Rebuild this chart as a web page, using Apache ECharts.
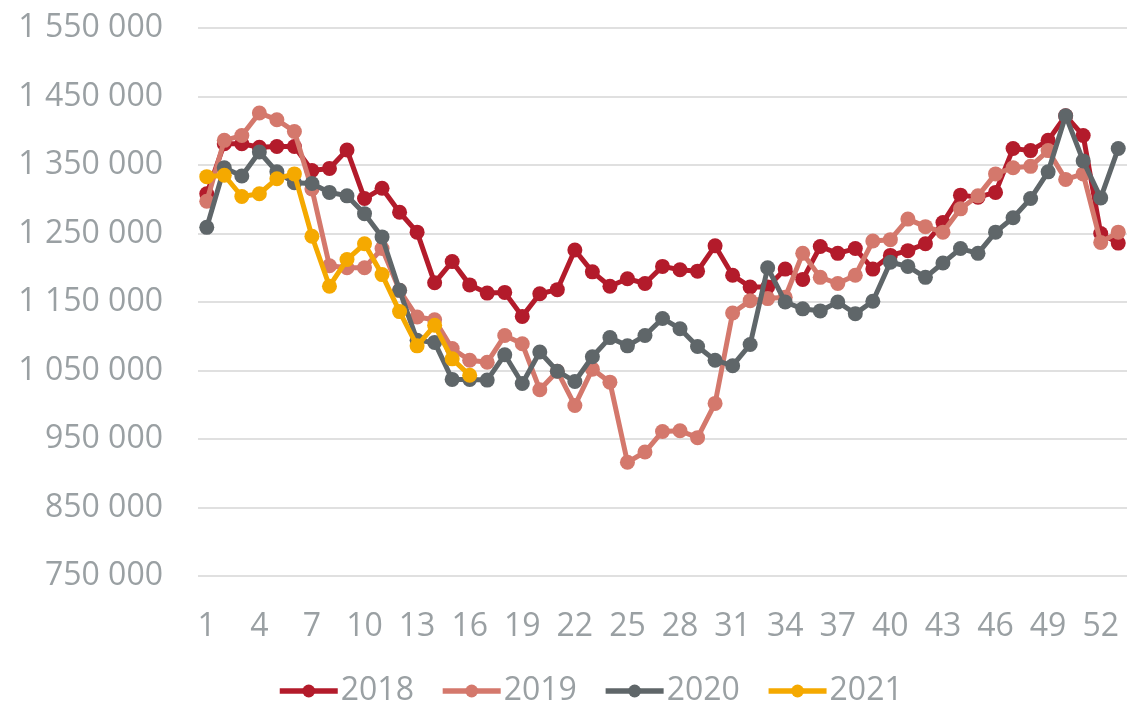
<!DOCTYPE html>
<html>
<head>
<meta charset="utf-8">
<script src="https://cdn.jsdelivr.net/npm/echarts@6/dist/echarts.min.js"></script>
<style>
  html, body { margin: 0; padding: 0; background: #ffffff; }
  #chart { width: 1127px; height: 706px; }
</style>
</head>
<body>
<div id="chart"></div>
<script>
// Week numbers 1..53
const weeks = ['1','2','3','4','5','6','7','8','9','10','11','12','13','14','15','16','17','18','19','20',
  '21','22','23','24','25','26','27','28','29','30','31','32','33','34','35','36','37','38','39','40',
  '41','42','43','44','45','46','47','48','49','50','51','52','53'];

const seriesNames = ['2018', '2019', '2020', '2021'];

const values2018 = [1308000, 1381000, 1381000, 1376000, 1377000, 1377000, 1342000, 1345000, 1372000, 1301000,
  1316000, 1281000, 1252000, 1178000, 1209000, 1175000, 1163000, 1164000, 1129000, 1162000,
  1168000, 1226000, 1194000, 1173000, 1184000, 1177000, 1202000, 1197000, 1195000, 1232000,
  1189000, 1172000, 1172000, 1198000, 1183000, 1231000, 1221000, 1228000, 1198000, 1218000,
  1225000, 1235000, 1266000, 1306000, 1303000, 1310000, 1374000, 1371000, 1386000, 1422000,
  1393000, 1250000, 1236000];

const values2019 = [1297000, 1386000, 1393000, 1426000, 1416000, 1399000, 1315000, 1203000, 1200000, 1200000,
  1228000, 1167000, 1128000, 1124000, 1082000, 1065000, 1062000, 1101000, 1089000, 1022000,
  1049000, 999000, 1052000, 1033000, 916000, 931000, 961000, 962000, 952000, 1002000,
  1134000, 1152000, 1155000, 1157000, 1221000, 1186000, 1177000, 1189000, 1239000, 1241000,
  1271000, 1260000, 1252000, 1286000, 1305000, 1337000, 1346000, 1348000, 1371000, 1329000,
  1337000, 1237000, 1252000];

const values2020 = [1259000, 1346000, 1334000, 1369000, 1340000, 1324000, 1323000, 1310000, 1305000, 1279000,
  1245000, 1167000, 1094000, 1091000, 1037000, 1037000, 1036000, 1073000, 1031000, 1077000,
  1049000, 1034000, 1070000, 1098000, 1086000, 1101000, 1126000, 1111000, 1085000, 1065000,
  1057000, 1088000, 1200000, 1150000, 1140000, 1137000, 1150000, 1133000, 1151000, 1208000,
  1202000, 1186000, 1207000, 1228000, 1221000, 1252000, 1273000, 1301000, 1340000, 1422000,
  1356000, 1302000, 1374000];

const values2021 = [1333000, 1335000, 1304000, 1308000, 1330000, 1337000, 1246000, 1173000, 1212000, 1235000,
  1190000, 1136000, 1086000, 1116000, 1067000, 1043000];

const colors = ['#b31b2b', '#d4786c', '#5f6669', '#f5a900'];

const textColor = '#9aa0a3';
const fontFamily = '"Open Sans", "Liberation Sans", sans-serif';

// Thousands separated by a space: 1 550 000
function spaced(v) {
  return String(Math.round(v)).replace(/\B(?=(\d{3})+(?!\d))/g, ' ');
}

const chart = echarts.init(document.getElementById('chart'), null, { renderer: 'canvas' });

const allValues = [values2018, values2019, values2020, values2021];

chart.setOption({
  animation: false,
  backgroundColor: '#ffffff',
  color: colors,
  grid: { left: 198, right: 0, top: 28, bottom: 130 },
  xAxis: {
    type: 'category',
    data: weeks,
    boundaryGap: true,
    axisLine: { show: false },
    axisTick: { show: false },
    axisLabel: {
      interval: 2,
      color: textColor,
      fontSize: 32,
      fontFamily: fontFamily,
      margin: 35
    },
    splitLine: { show: false }
  },
  yAxis: {
    type: 'value',
    min: 750000,
    max: 1550000,
    interval: 100000,
    axisLine: { show: false },
    axisTick: { show: false },
    axisLabel: {
      color: textColor,
      fontSize: 32,
      fontFamily: fontFamily,
      margin: 35,
      formatter: spaced
    },
    splitLine: { lineStyle: { color: '#e0e0e0', width: 2 } }
  },
  legend: {
    data: seriesNames,
    bottom: -6,
    left: 272,
    itemWidth: 58,
    itemHeight: 16,
    itemGap: 26,
    lineStyle: { width: 5.5 },
    textStyle: { color: textColor, fontSize: 32, fontFamily: fontFamily, padding: [0, 0, 0, -2] }
  },
  series: seriesNames.map((name, i) => ({
    name: name,
    type: 'line',
    data: allValues[i],
    symbol: 'circle',
    symbolSize: 15,
    showSymbol: true,
    showAllSymbol: true,
    lineStyle: { width: 5, color: colors[i] },
    itemStyle: { color: colors[i] },
    z: 2 + i
  }))
});
</script>
</body>
</html>
